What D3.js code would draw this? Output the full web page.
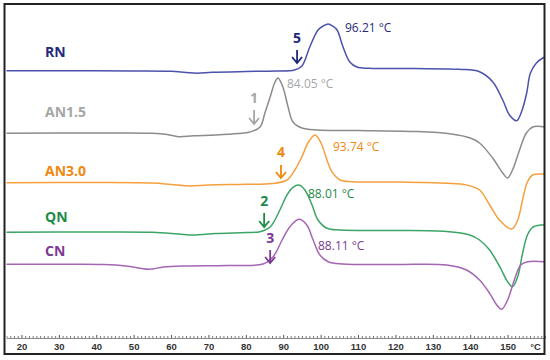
<!DOCTYPE html>
<html>
<head>
<meta charset="utf-8">
<script src="https://cdn.jsdelivr.net/npm/d3@7"></script>
<style>
  body { margin: 0; background: #fff; }
  svg { display: block; }
</style>
</head>
<body>
<div id="chart"></div>
<script>
// DSC curves, [temperature (°C), heat flow (a.u., exo up)]
var rn = [[16,26.93],[30,26.92],[50,26.91],[60,26.87],[64,26.75],[67,26.68],[71,26.77],[80,26.85],[88,26.9],[93,27.0],[95,27.4],[97.1,29.3],[99.3,31.0],[100.7,31.4],[102,31.6],[103.2,31.4],[104.4,31.0],[106,29.3],[107.8,27.8],[109.7,27.3],[113,27.17],[125,27.14],[137,27.07],[142.5,26.83],[146,25.83],[148.7,24.0],[150.5,22.5],[152.4,21.93],[153.7,22.8],[155.1,24.7],[156.1,26.7],[157.7,27.7],[159.4,28.2],[160,28.3]];
var an15 = [[16,20.67],[40,20.7],[55,20.68],[59,20.55],[62,20.33],[66,20.42],[72,20.5],[78,20.65],[81.1,20.8],[83.8,21.3],[85.1,22.7],[86.5,24.3],[87.8,25.8],[88.6,26.2],[89.9,25.3],[91.3,23.3],[92.6,21.8],[95,21.2],[99,21.0],[110,20.95],[125,20.85],[135,20.6],[140,20.2],[142.5,19.7],[146,18.2],[148.7,16.7],[150,16.2],[151.3,17.0],[153.2,19.0],[155,20.7],[156.7,21.3],[160,21.3]];
var an30 = [[16,15.73],[40,15.75],[55,15.7],[60,15.55],[65,15.4],[70,15.5],[80,15.57],[87,15.65],[91,16.0],[93.1,17.0],[95,18.33],[96.6,19.7],[98.5,20.5],[100.1,19.7],[101.7,18.0],[103,16.83],[105.2,16.0],[108.6,15.83],[120,15.8],[133.7,15.67],[139,15.5],[142.5,15.0],[145.2,13.5],[147.8,12.0],[151.1,11.1],[152.7,12.0],[154,14.0],[155.3,15.8],[156.7,16.5],[159.4,16.6],[160,16.6]];
var qn = [[16,10.77],[40,10.8],[55,10.77],[62,10.6],[66,10.5],[72,10.65],[80,10.75],[83.8,10.83],[86.5,11.3],[89.1,13.0],[91,14.5],[92.6,15.27],[94.2,15.5],[95.8,15.0],[97.7,13.5],[99.3,12.0],[101.7,11.17],[105.2,11.0],[120,10.95],[133.7,10.85],[139.9,10.5],[142.5,10.0],[145.2,9.0],[147.9,7.33],[150,5.83],[151.3,5.33],[152.7,6.33],[154,8.67],[155.3,10.5],[156.7,11.27],[159.1,11.5],[160,11.5]];
var cn = [[16,7.57],[30,7.57],[42,7.55],[48,7.4],[54,7.07],[58,7.3],[64,7.4],[75,7.45],[84.6,7.6],[87.3,8.33],[89.7,10.0],[91.8,11.33],[94.2,12.07],[96.3,11.5],[98,10.0],[99.8,8.5],[102,7.83],[106,7.6],[120,7.55],[133.7,7.5],[139,7.0],[142.5,6.0],[145.2,4.67],[147.1,3.5],[148.4,3.07],[150,4.0],[151.8,6.0],[153.5,7.5],[155.3,7.83],[160,7.83]];

var sampleNames = ["RN", "AN1.5", "AN3.0", "QN", "CN"];
var peakLabels = ["96.21 °C", "84.05 °C", "93.74 °C", "88.01 °C", "88.11 °C"];
var onsetNumbers = ["5", "1", "4", "2", "3"];
var onsetTemps = [93.7, 82.2, 89.4, 84.9, 86.5];
var xTicks = [20, 30, 40, 50, 60, 70, 80, 90, 100, 110, 120, 130, 140, 150];

var curves = [rn, an15, an30, qn, cn];
var lineColors = ["#4b52ad", "#8c8c8c", "#f5a03c", "#3ba566", "#a566b4"];
var textColors = ["#1f2a7c", "#a6a6a6", "#f0880f", "#1e8a47", "#7b3a92"];

// layout (pixels)
var nameY = [52, 112, 171, 217, 251];
var peakLabelPos = [[345, 28], [287, 84], [333, 147], [308, 194], [318, 246]];
var arrowPos = [[38, 50, 63], [98, 110, 124], [152, 165, 178], [201, 213, 227], [238, 250, 263]];

var width = 550, height = 360;

var svg = d3.select("#chart").append("svg")
    .attr("width", width)
    .attr("height", height);

var x = d3.scaleLinear()
    .domain([16, 160])
    .range([6.5, 545]);

var y = d3.scaleLinear()
    .domain([0, 34])
    .range([340, 0]);

var axisY = 338;

// minor ticks
svg.append("g")
    .attr("transform", "translate(0," + axisY + ")")
    .call(d3.axisBottom(x).tickValues(d3.range(17, 160, 1).filter(function(d) { return d % 10 !== 0; }))
        .tickSize(-2).tickFormat(""))
    .call(function(g) {
        g.select(".domain").attr("stroke", "#8a8a8a");
        g.selectAll(".tick line").attr("stroke", "#777");
    });

// major ticks + labels
svg.append("g")
    .attr("transform", "translate(0," + axisY + ")")
    .call(d3.axisBottom(x).tickValues(xTicks).tickSize(-3).tickPadding(5))
    .call(function(g) {
        g.select(".domain").remove();
        g.selectAll(".tick line").attr("stroke", "#555");
        g.selectAll(".tick text")
            .attr("font-family", "'Liberation Sans', Arial, sans-serif")
            .attr("font-size", 9.5)
            .attr("font-weight", "bold")
            .attr("fill", "#333");
    });

svg.append("text")
    .attr("x", x(157.5))
    .attr("y", axisY + 5)
    .attr("dy", "0.71em")
    .attr("text-anchor", "middle")
    .attr("font-family", "'Liberation Sans', Arial, sans-serif")
    .attr("font-size", 9.5)
    .attr("font-weight", "bold")
    .attr("fill", "#333")
    .text("°C");

var line = d3.line()
    .x(function(d) { return x(d[0]); })
    .y(function(d) { return y(d[1]); })
    .curve(d3.curveCatmullRom.alpha(0.5));

curves.forEach(function(data, i) {
    svg.append("path")
        .datum(data)
        .attr("fill", "none")
        .attr("stroke", lineColors[i])
        .attr("stroke-width", 1.5)
        .attr("d", line);

    svg.append("text")
        .attr("x", 45)
        .attr("y", nameY[i])
        .attr("dy", "0.35em")
        .attr("font-family", "'Open Sans', sans-serif")
        .attr("font-size", 14)
        .attr("font-weight", "bold")
        .attr("fill", textColors[i])
        .text(sampleNames[i]);

    svg.append("text")
        .attr("x", peakLabelPos[i][0])
        .attr("y", peakLabelPos[i][1])
        .attr("dy", "0.35em")
        .attr("font-family", "'Open Sans', sans-serif")
        .attr("font-size", 12)
        .attr("fill", textColors[i])
        .text(peakLabels[i]);

    // onset arrow
    var ax = x(onsetTemps[i]);
    svg.append("text")
        .attr("x", ax)
        .attr("y", arrowPos[i][0])
        .attr("dy", "0.35em")
        .attr("text-anchor", "middle")
        .attr("font-family", "'Open Sans', sans-serif")
        .attr("font-size", 14)
        .attr("font-weight", "bold")
        .attr("fill", textColors[i])
        .text(onsetNumbers[i]);

    var top = arrowPos[i][1], bot = arrowPos[i][2];
    svg.append("path")
        .attr("d", "M" + ax + "," + top + "V" + bot +
            "M" + (ax - 5) + "," + (bot - 6) + "L" + ax + "," + bot + "L" + (ax + 5) + "," + (bot - 6))
        .attr("fill", "none")
        .attr("stroke", textColors[i])
        .attr("stroke-width", 1.8);
});

// frame
svg.append("rect")
    .attr("x", 4.5)
    .attr("y", 4)
    .attr("width", 540)
    .attr("height", 350)
    .attr("fill", "none")
    .attr("stroke", "#222")
    .attr("stroke-width", 2);
</script>
</body>
</html>
